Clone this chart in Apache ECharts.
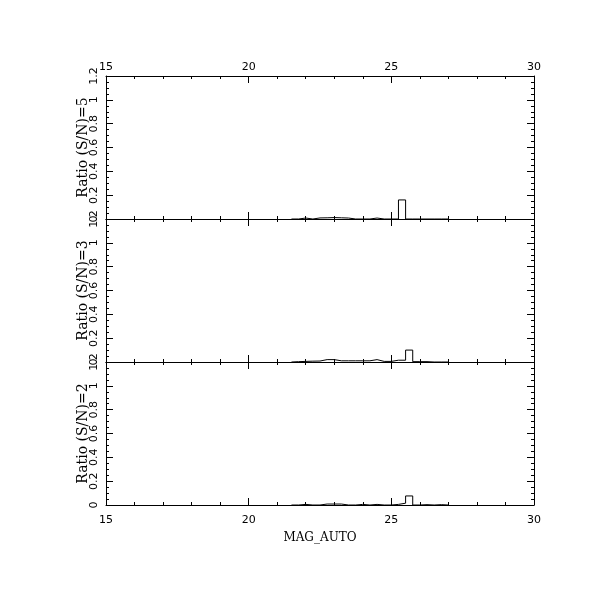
<!DOCTYPE html>
<html><head><meta charset="utf-8">
<script src="https://cdn.jsdelivr.net/npm/echarts@6/dist/echarts.min.js"></script>
<style>html,body{margin:0;padding:0;background:#fff}#c{width:611px;height:611px}</style>
</head><body><div id="c"></div>
<script>
// Bin left edges (mag), width 0.25
const binEdges = [21.5,21.75,22.0,22.25,22.5,22.75,23.0,23.25,23.5,23.75,24.0,24.25,24.5,24.75,25.0,25.25,25.5,25.75,26.0,26.25,26.5,26.75];
const binWidth = 0.25;
// Ratios per bin
const ratioSN5 = [0,0.008,0,0.009,0.01,0.012,0.01,0.008,0,0,0,0.008,0,0,0,0.16,0,0,0,0,0,0];
const ratioSN3 = [0.003,0.005,0.007,0.008,0.02,0.02,0.01,0.01,0.01,0.01,0.01,0.02,0.005,0.005,0.015,0.015,0.10,0.003,0.003,0,0,0];
const ratioSN2 = [0,0.005,0,0,0.008,0.008,0.008,0,0,0.005,0,0.005,0,0,0.005,0.015,0.076,0,0.003,0,0.003,0];
const panelNames = ['Ratio (S/N)=5','Ratio (S/N)=3','Ratio (S/N)=2'];
const panelData = [ratioSN5, ratioSN3, ratioSN2];
const xTitle = 'MAG_AUTO';

const chart = echarts.init(document.getElementById('c'), null, {renderer:'canvas'});
const tops = [76, 219, 362];
const H = 143;
const grids = [], xAxes = [], yAxes = [], series = [];
const lab = {fontFamily:'DejaVu Sans', fontSize:11, color:'#000'};
function stepPts(vals){
  const pts = [[binEdges[0],0]];
  vals.forEach((v,i)=>pts.push([binEdges[i],v]));
  pts.push([binEdges[binEdges.length-1]+binWidth,0]);
  return pts;
}
for(let i=0;i<3;i++){
  grids.push({left:106, right:77, top:tops[i], height:H});
  const xBase = {gridIndex:i, type:'value', min:15, max:30, interval:5,
    axisLine:{show:true, onZero:false, lineStyle:{color:'#000', width:1}},
    axisTick:{show:true, inside:true, length:7, lineStyle:{color:'#000'}},
    minorTick:{show:true, splitNumber:5, length:3, lineStyle:{color:'#000'}},
    splitLine:{show:false}};
  xAxes.push(Object.assign({}, xBase, {position:'bottom',
    axisLabel:{show:i===2, margin:10, ...lab},
    name: i===2? xTitle : '', nameLocation:'middle', nameGap:27, nameMoveOverlap:false,
    nameTextStyle:{fontFamily:'DejaVu Serif', fontSize:12, color:'#000'}}));
  xAxes.push(Object.assign({}, xBase, {position:'top',
    axisLabel:{show:i===0, margin:3, ...lab}}));
  const yBase = {gridIndex:i, type:'value', min:0, max:1.2, interval:0.2,
    axisLine:{show:true, onZero:false, lineStyle:{color:'#000', width:1}},
    axisTick:{show:true, inside:true, length:7, lineStyle:{color:'#000'}},
    minorTick:{show:true, splitNumber:4, length:3, lineStyle:{color:'#000'}},
    splitLine:{show:false}};
  yAxes.push(Object.assign({}, yBase, {position:'left',
    axisLabel:{show:true, rotate:90, margin:6, ...lab, formatter:v=>String(Math.round(v*10)/10)},
    name:panelNames[i], nameLocation:'middle', nameGap:16, nameMoveOverlap:false,
    nameTextStyle:{fontFamily:'DejaVu Serif', fontSize:14, color:'#000'}}));
  yAxes.push(Object.assign({}, yBase, {position:'right', axisLabel:{show:false}}));
  series.push({type:'line', xAxisIndex:2*i, yAxisIndex:2*i, step:'end', symbol:'none',
    data:stepPts(panelData[i]), lineStyle:{color:'#000', width:1}, animation:false, clip:true});
}
chart.setOption({backgroundColor:'#fff', animation:false, grid:grids, xAxis:xAxes, yAxis:yAxes, series:series});
</script></body></html>
